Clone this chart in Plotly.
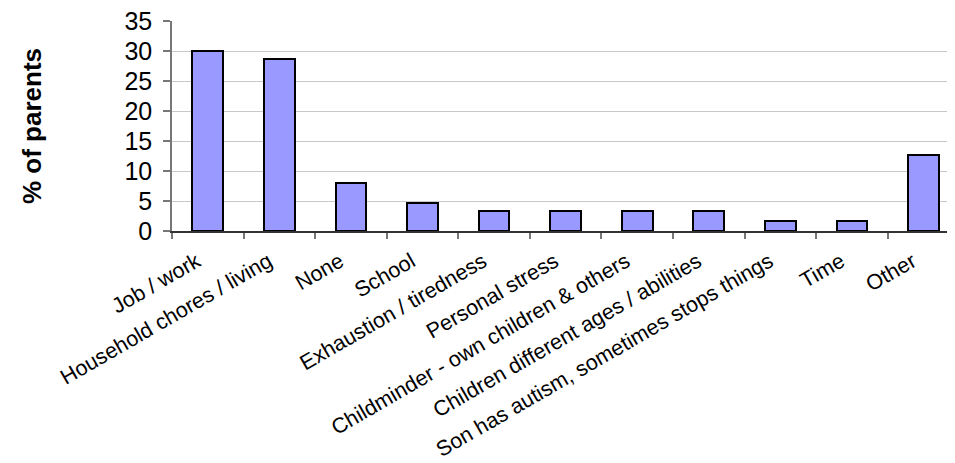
import plotly.graph_objects as go

categories = ["Job / work", "Household chores / living", "None", "School",
              "Exhaustion / tiredness", "Personal stress",
              "Childminder - own children & others",
              "Children different ages / abilities",
              "Son has autism, sometimes stops things", "Time", "Other"]
values = [30.0, 28.67, 8.0, 4.67, 3.33, 3.33, 3.33, 3.33, 1.67, 1.67, 12.67]
y_ticks = [0, 5, 10, 15, 20, 25, 30, 35]

FONT = "Liberation Sans, Arial, sans-serif"

fig = go.Figure()
fig.add_trace(go.Bar(
    x=categories, y=values, width=0.43,
    marker=dict(color="#9999FF", line=dict(color="#000000", width=2)),
))

# page body has an 8px margin; compensate so the chart lands at the reference spot
fig.update_layout(
    width=947, height=455,
    margin=dict(l=164, r=0, t=13, b=232, autoexpand=False),
    paper_bgcolor="white", plot_bgcolor="white",
    showlegend=False,
    font=dict(family=FONT, color="#000000"),
    bargap=0,
)
fig.update_xaxes(
    type="category", range=[-0.5, 10.44], automargin=False,
    tickangle=-30, tickfont=dict(size=21.5, family=FONT),
    ticklabelstandoff=8, ticklabelshift=-11,
    showline=True, linecolor="#333333", linewidth=1.5,
    ticks="outside", tickson="boundaries", ticklen=6, tickcolor="#777777", tickwidth=1.5,
    showgrid=False,
)
fig.update_yaxes(
    range=[0, 35], tickvals=y_ticks, automargin=False,
    ticklabeloverflow="allow",
    tickfont=dict(size=25, family=FONT),
    showline=True, linecolor="#777777", linewidth=1.5,
    ticks="outside", ticklen=7, tickcolor="#777777", tickwidth=1.5,
    ticklabelstandoff=6,
    showgrid=True, gridcolor="#C8C8C8", gridwidth=1,
    zeroline=False,
)
fig.add_annotation(
    text="<b>% of parents</b>", textangle=-90,
    xref="paper", yref="paper", x=(32 - 172) / 783, y=0.5,
    xanchor="center", yanchor="middle", showarrow=False,
    font=dict(size=26, family=FONT, color="#000000"),
)

fig.write_html("out.html")
